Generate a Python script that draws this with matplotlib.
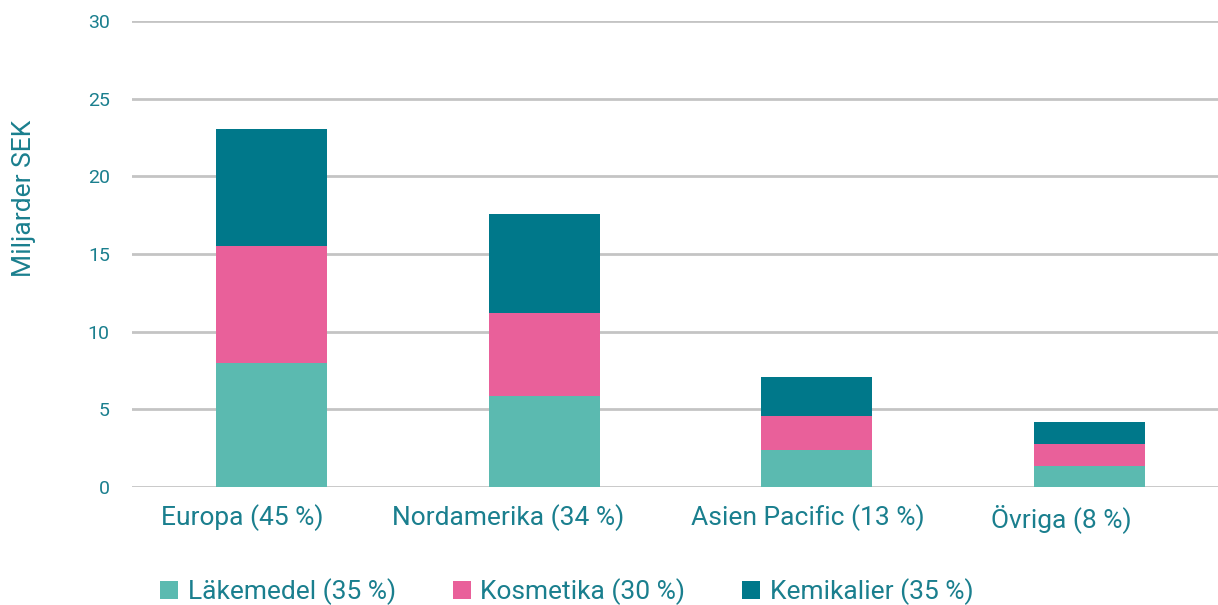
import numpy as np
import matplotlib.pyplot as plt
import matplotlib.transforms as mtransforms

regioner = ["Europa (45 %)", "Nordamerika (34 %)", "Asien Pacific (13 %)", "Övriga (8 %)"]
lakemedel = [8.0, 5.85, 2.4, 1.35]
kosmetika = [7.5, 5.35, 2.2, 1.4]
kemikalier = [7.55, 6.4, 2.45, 1.45]
serier = ["Läkemedel (35 %)", "Kosmetika (30 %)", "Kemikalier (35 %)"]
farger = ["#5BBAB0", "#E9609A", "#00788A"]
textfarg = "#1A7F8E"

plt.rcParams['font.family'] = ['Roboto', 'DejaVu Sans']

fig = plt.figure(figsize=(12.18, 6.05), dpi=100)
ax = fig.add_axes([132/1218, 1-487/605, 1-132/1218, (487-21)/605])

x = np.arange(len(regioner))
w = 0.407
b1 = ax.bar(x, lakemedel, w, color=farger[0], label=serier[0], zorder=3)
b2 = ax.bar(x, kosmetika, w, bottom=lakemedel, color=farger[1], label=serier[1], zorder=3)
bot = np.array(lakemedel) + np.array(kosmetika)
b3 = ax.bar(x, kemikalier, w, bottom=bot, color=farger[2], label=serier[2], zorder=3)

ax.set_xlim(-0.512, 3.473)
ax.set_ylim(0, 30)
ax.set_yticks(range(0, 31, 5))
ax.yaxis.grid(True, color="#C4C4C4", linewidth=2, zorder=0)
ax.set_axisbelow(True)
for s in ax.spines.values():
    s.set_visible(False)
ax.tick_params(axis='both', length=0, colors=textfarg)
ax.tick_params(axis='y', labelsize=14, pad=16)
ax.tick_params(axis='x', labelsize=19, pad=12)
ax.set_xticks(x)
ax.set_xticklabels(regioner)

# etiketterna sitter lite till vänster om staplarna i originalet
forskjut = [-29, -36, -9, -28]
for lab, dx in zip(ax.get_xticklabels(), forskjut):
    lab.set_transform(lab.get_transform() + mtransforms.ScaledTranslation(dx/100, 0, fig.dpi_scale_trans))

ax.set_ylabel("Miljarder SEK", color=textfarg, fontsize=19)
ax.yaxis.set_label_coords(-0.088, 0.62)

fig.legend(handles=[b1, b2, b3], labels=serier, loc='center left', bbox_to_anchor=(160/1218, 0.0215),
           ncol=3, frameon=False, fontsize=19, labelcolor=textfarg, borderpad=0, borderaxespad=0,
           handlelength=0.7, handleheight=0.7, handletextpad=0.35, columnspacing=2.15)

fig.savefig("out.png", dpi=100)
